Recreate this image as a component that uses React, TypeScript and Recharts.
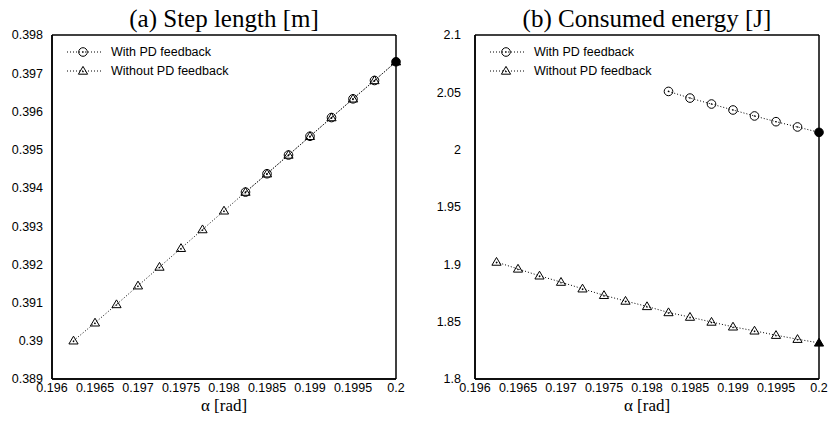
import React from "react";
import { LineChart, Line, XAxis, YAxis, Legend } from "recharts";

// x-axis: alpha [rad]
const alphaTicks = [0.196, 0.1965, 0.197, 0.1975, 0.198, 0.1985, 0.199, 0.1995, 0.2];
const stepTicks = [0.389, 0.39, 0.391, 0.392, 0.393, 0.394, 0.395, 0.396, 0.397, 0.398];
const energyTicks = [1.8, 1.85, 1.9, 1.95, 2, 2.05, 2.1];

const alphaWithout = [
  0.19625, 0.1965, 0.19675, 0.197, 0.19725, 0.1975, 0.19775, 0.198,
  0.19825, 0.1985, 0.19875, 0.199, 0.19925, 0.1995, 0.19975, 0.2,
];
const alphaWith = [0.19825, 0.1985, 0.19875, 0.199, 0.19925, 0.1995, 0.19975, 0.2];

// (a) step length [m]
const stepWithout = [
  0.39, 0.39047, 0.39095, 0.39144, 0.39193, 0.39242, 0.39291, 0.3934,
  0.39389, 0.39437, 0.39486, 0.39535, 0.39584, 0.39633, 0.39681, 0.3973,
];
const stepWith = [0.39389, 0.39437, 0.39486, 0.39535, 0.39584, 0.39633, 0.39681, 0.3973];

// (b) consumed energy [J]
const energyWithout = [
  1.902, 1.896, 1.89, 1.8845, 1.8787, 1.873, 1.868, 1.8633,
  1.858, 1.854, 1.8497, 1.8455, 1.842, 1.8382, 1.8347, 1.8315,
];
const energyWith = [2.0508, 2.045, 2.0398, 2.0346, 2.0294, 2.0244, 2.0198, 2.0151];

const seriesNames = ["With PD feedback", "Without PD feedback"];
const seriesShapes = ["circle", "triangle"];
const nominalAlpha = 0.2; // filled marker

const SANS = "'Liberation Sans', Arial, sans-serif";
const SERIF = "'Liberation Serif', 'Times New Roman', serif";

const fmt = (v: number) => String(parseFloat(v.toFixed(4)));
const blank = () => "";

function Marker({ shape, cx, cy, filled }: { shape: string; cx: number; cy: number; filled?: boolean }) {
  const fill = filled ? "#000" : "none";
  if (shape === "circle") {
    return (
      <g>
        <circle cx={cx} cy={cy} r={4.3} fill={fill} stroke="#000" strokeWidth={1} />
        {!filled && <circle cx={cx} cy={cy} r={0.8} fill="#000" />}
      </g>
    );
  }
  const pts = `${cx},${cy - 4.6} ${cx - 4.6},${cy + 3.2} ${cx + 4.6},${cy + 3.2}`;
  return (
    <g>
      <polygon points={pts} fill={fill} stroke="#000" strokeWidth={1} strokeLinejoin="miter" />
      {!filled && <circle cx={cx} cy={cy + 0.6} r={0.8} fill="#000" />}
    </g>
  );
}

const dotFor = (shape: string) => (p: any) => (
  <Marker
    key={`${shape}-${p.index}`}
    shape={shape}
    cx={p.cx}
    cy={p.cy}
    filled={p.payload && p.payload.a === nominalAlpha}
  />
);

const renderLegend = (props: any) => {
  const items = props.payload || [];
  return (
    <svg width={190} height={40}>
      {items.map((it: any, i: number) => (
        <g key={it.value} transform={`translate(0, ${9 + i * 19})`}>
          <line x1={0} x2={36} y1={0} y2={0} stroke="#000" strokeWidth={1} strokeDasharray="1 2" />
          <Marker shape={seriesShapes[i]} cx={16} cy={0} />
          <text x={44} y={0} dy="0.35em" fontSize={12.5} fontFamily={SANS} fill="#000">
            {it.value}
          </text>
        </g>
      ))}
    </svg>
  );
};

type PanelProps = {
  title: string;
  left: number;
  width: number;
  yWidth: number;
  marginRight: number;
  yTickMargin: number;
  yTicks: number[];
  withVals: number[];
  withoutVals: number[];
};

function Panel(p: PanelProps) {
  const withData = alphaWith.map((a, i) => ({ a, v: p.withVals[i] }));
  const withoutData = alphaWithout.map((a, i) => ({ a, v: p.withoutVals[i] }));
  const yDomain = [p.yTicks[0], p.yTicks[p.yTicks.length - 1]];
  const plotLeft = p.yWidth;
  const plotRight = p.width - p.marginRight;
  const tickStyle = { fill: "#000", fontSize: 12.5, fontFamily: SANS };
  const axisLine = { stroke: "#000", strokeWidth: 1.5 };
  const tickLine = { stroke: "#000", strokeWidth: 1 };

  // gnuplot-style frame: inward ticks on all four sides (mirrored axes)
  const xFrame = (id: string, orientation: "top" | "bottom") => (
    <XAxis
      xAxisId={id}
      orientation={orientation}
      mirror
      type="number"
      domain={[0.196, 0.2]}
      ticks={alphaTicks}
      interval={0}
      height={1}
      tickFormatter={blank}
      tickSize={5}
      axisLine={axisLine}
      tickLine={tickLine}
    />
  );
  const yFrame = (id: string, orientation: "left" | "right") => (
    <YAxis
      yAxisId={id}
      orientation={orientation}
      mirror
      type="number"
      domain={yDomain}
      ticks={p.yTicks}
      interval={0}
      width={1}
      tickFormatter={blank}
      tickSize={5}
      axisLine={axisLine}
      tickLine={tickLine}
    />
  );

  return (
    <div style={{ position: "absolute", left: p.left, top: 0, width: p.width, height: 428 }}>
      <div
        style={{
          position: "absolute",
          left: plotLeft,
          width: plotRight - plotLeft,
          top: 7,
          textAlign: "center",
          fontFamily: SERIF,
          fontSize: 25,
          lineHeight: "24px",
          color: "#000",
          whiteSpace: "nowrap",
        }}
      >
        {p.title}
      </div>
      <LineChart
        width={p.width}
        height={428}
        margin={{ top: 35, right: p.marginRight, bottom: 0, left: 0 }}
      >
        <XAxis
          dataKey="a"
          type="number"
          domain={[0.196, 0.2]}
          ticks={alphaTicks}
          interval={0}
          height={49}
          tickFormatter={fmt}
          tick={tickStyle}
          tickSize={0}
          tickMargin={4}
          axisLine={axisLine}
          tickLine={false}
          label={{
            value: "α [rad]",
            position: "insideBottom",
            offset: 17,
            fontSize: 17,
            fontFamily: SERIF,
            fill: "#000",
          }}
        />
        <YAxis
          type="number"
          domain={yDomain}
          ticks={p.yTicks}
          interval={0}
          width={p.yWidth}
          tickFormatter={fmt}
          tick={tickStyle}
          tickSize={0}
          tickMargin={p.yTickMargin}
          axisLine={axisLine}
          tickLine={false}
        />
        {xFrame("top", "top")}
        {xFrame("bottomTicks", "bottom")}
        {yFrame("leftTicks", "left")}
        {yFrame("right", "right")}
        <Legend
          layout="vertical"
          align="center"
          verticalAlign="middle"
          content={renderLegend}
          wrapperStyle={{ left: plotLeft + 15, top: 43, width: 190, height: 40 }}
        />
        <Line
          data={withData}
          dataKey="v"
          name={seriesNames[0]}
          stroke="#000"
          strokeWidth={1}
          strokeDasharray="1 2"
          dot={dotFor(seriesShapes[0])}
          activeDot={false}
          isAnimationActive={false}
        />
        <Line
          data={withoutData}
          dataKey="v"
          name={seriesNames[1]}
          stroke="#000"
          strokeWidth={1}
          strokeDasharray="1 2"
          dot={dotFor(seriesShapes[1])}
          activeDot={false}
          isAnimationActive={false}
        />
      </LineChart>
    </div>
  );
}

export default function App() {
  return (
    <div style={{ position: "absolute", left: 0, top: 0, width: 829, height: 428, background: "#fff" }}>
      <Panel
        title="(a) Step length [m]"
        left={0}
        width={415}
        yWidth={52}
        marginRight={19}
        yTickMargin={9}
        yTicks={stepTicks}
        withVals={stepWith}
        withoutVals={stepWithout}
      />
      <Panel
        title="(b) Consumed energy [J]"
        left={415}
        width={414}
        yWidth={60}
        marginRight={10}
        yTickMargin={14}
        yTicks={energyTicks}
        withVals={energyWith}
        withoutVals={energyWithout}
      />
    </div>
  );
}
